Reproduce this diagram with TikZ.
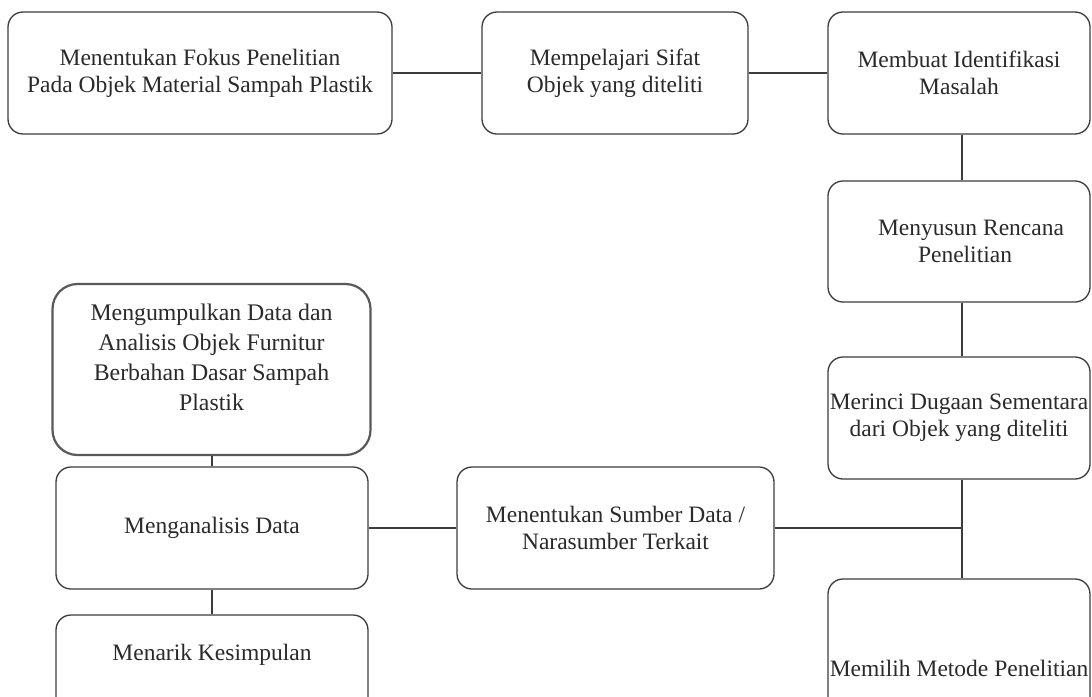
\documentclass[tikz,border=0pt]{standalone}
\usepackage{fontspec}
\setmainfont{Liberation Serif}
\definecolor{ln}{HTML}{3C3C3C}
\definecolor{tx}{HTML}{2A2A2A}
\begin{document}
\begin{tikzpicture}[x=1pt,y=-1pt,
  box/.style={draw=ln,line width=1.3pt,rounded corners=15pt,inner sep=0pt,align=center,text=tx,
    font=\fontsize{23.5}{27}\selectfont},
  tbox/.style={box,draw=ln!85,line width=2.2pt,rounded corners=25pt,font=\fontsize{23.8}{30}\selectfont},
  txt/.style={inner sep=0pt,align=center,text=tx,font=\fontsize{23.5}{27}\selectfont},
  conn/.style={draw=ln,line width=1.3pt}]
\clip (0,0) rectangle (1092,696);
\fill[white] (0,0) rectangle (1092,696);
\node[box,minimum width=384,minimum height=122] (b1) at (200,73) {Menentukan Fokus Penelitian\\Pada Objek Material Sampah Plastik};
\node[box,minimum width=266,minimum height=122] (b2) at (615,73) {Mempelajari Sifat\\Objek yang diteliti};
\node[box,minimum width=262,minimum height=122] (b3) at (959,73) {Membuat Identifikasi\\Masalah};
\node[box,minimum width=262,minimum height=121] (b4) at (959,241.5) {\hspace*{24pt}Menyusun Rencana\\\hspace*{12pt}Penelitian};
\node[box,minimum width=262,minimum height=122] (b5) at (959,418) {Merinci Dugaan Sementara\\dari Objek yang diteliti};
\node[box,minimum width=262,minimum height=178] (b6) at (959,668) {Memilih Metode Penelitian};
\node[box,minimum width=317,minimum height=122] (b7) at (615.5,528) {Menentukan Sumber Data /\\Narasumber Terkait};
\node[box,minimum width=312,minimum height=122] (b8) at (212,528) {Menganalisis Data};
\node[tbox,minimum width=318,minimum height=171] (b9) at (211.5,369.5) {Mengumpulkan Data dan\\Analisis Objek Furnitur\\Berbahan Dasar Sampah\\Plastik\\[-6pt]};
\node[box,minimum width=312,minimum height=110] (b10) at (212,670) {};
\node[txt] (t10) at (212,655) {Menarik Kesimpulan};
\draw[conn] (b1.east) -- (b2.west);
\draw[conn] (b2.east) -- (b3.west);
\draw[conn] ([xshift=3pt]b3.south) -- ([xshift=3pt]b4.north);
\draw[conn] ([xshift=3pt]b4.south) -- ([xshift=3pt]b5.north);
\draw[conn] ([xshift=3pt]b5.south) -- ([xshift=3pt]b6.north);
\draw[conn] (b7.east) -- ([xshift=3pt]b7.east -| b5.south);
\draw[conn] (b8.east) -- (b7.west);
\draw[conn] (b8.north |- b9.south) -- (b8.north);
\draw[conn] (b8.south) -- (b10.north);
\end{tikzpicture}
\end{document}
